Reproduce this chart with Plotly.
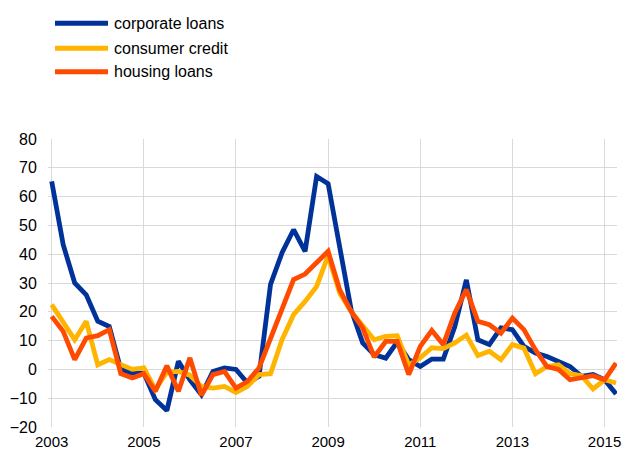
import plotly.graph_objects as go

# Quarterly observations, 2003 Q1 .. 2015 Q2
start_year = 2003
n_quarters = 50
quarters = [start_year + 0.25 * i for i in range(n_quarters)]

corporate_loans = [65.3, 43.3, 30.0, 25.9, 16.7, 14.9, 0.0, -1.3, -1.3, -10.5,
                   -14.3, 2.8, -3.6, -8.8, -0.7, 0.5, 0.0, -4.7, -2.4, 29.5,
                   40.5, 48.5, 41.0, 67.0, 64.5, 43.0, 20.7, 9.2, 5.1, 3.9,
                   9.5, 3.4, 1.0, 3.6, 3.6, 14.9, 31.1, 10.3, 8.6, 14.4,
                   13.8, 8.0, 5.7, 4.5, 2.8, 1.0, -2.4, -1.8, -3.6, -8.5]

consumer_credit = [22.5, 16.7, 10.3, 16.7, 1.6, 3.4, 1.6, 0.0, 0.5, -7.0,
                   -1.0, -0.7, -2.0, -5.9, -6.5, -5.9, -8.0, -5.9, -1.8, -1.5,
                   10.3, 19.0, 23.6, 28.8, 39.5, 26.5, 20.1, 14.9, 10.3, 11.5,
                   11.7, 1.5, 4.0, 7.5, 7.2, 9.2, 11.9, 4.8, 6.3, 3.4,
                   8.6, 7.4, -1.5, 1.0, 1.6, -1.5, -2.2, -6.8, -3.6, -4.7]

housing_loans = [18.4, 13.2, 3.4, 10.9, 11.7, 13.8, -1.5, -3.0, -1.5, -7.6,
                 1.3, -7.6, 4.0, -9.0, -1.8, -0.7, -6.5, -4.2, 0.5, 11.0,
                 21.5, 31.2, 33.1, 36.9, 41.0, 27.7, 20.1, 14.4, 4.3, 9.7,
                 9.7, -1.8, 8.0, 13.5, 8.6, 19.6, 27.7, 16.7, 15.5, 12.6,
                 17.8, 13.8, 6.8, 1.0, 0.0, -3.6, -3.0, -2.2, -3.6, 2.2]

series_names = ["corporate loans", "consumer credit", "housing loans"]
series_values = [corporate_loans, consumer_credit, housing_loans]
series_colors = ["#003299", "#FFB400", "#FF4B00"]

x_tick_vals = [2003, 2005, 2007, 2009, 2011, 2013, 2015]
y_tick_vals = [-20, -10, 0, 10, 20, 30, 40, 50, 60, 70, 80]

FONT = "Liberation Sans, Arial, sans-serif"
FS = 16
W, H = 625, 451
ML, MR, MT, MB = 48, 8, 139, 24
PW, PH = W - ML - MR, H - MT - MB

fig = go.Figure()
for name, vals, col in zip(series_names, series_values, series_colors):
    fig.add_trace(go.Scatter(x=quarters, y=vals, mode="lines", name=name,
                             line=dict(color=col, width=4.8),
                             showlegend=False))

# Manual legend (long line samples as in the reference)
legend_py = [23.3, 48.3, 71.7]
def px_to_paper_x(px):
    return (px - ML) / PW
def py_to_paper_y(py):
    return (H - MB - py) / PH

for name, col, py in zip(series_names, series_colors, legend_py):
    yp = py_to_paper_y(py)
    fig.add_shape(type="line", xref="paper", yref="paper",
                  x0=px_to_paper_x(55), x1=px_to_paper_x(108), y0=yp, y1=yp,
                  line=dict(color=col, width=5))
    fig.add_annotation(xref="paper", yref="paper", x=px_to_paper_x(112), y=yp,
                       text=name, showarrow=False, xanchor="left", yanchor="middle",
                       font=dict(family=FONT, size=FS, color="#000000"))

fig.update_layout(
    width=W, height=H,
    margin=dict(l=ML, r=MR, t=MT, b=MB, pad=0),
    paper_bgcolor="white", plot_bgcolor="white",
    font=dict(family=FONT, size=FS, color="#000000"),
    showlegend=False,
)
fig.update_xaxes(range=[2002.92, 2015.27], tickvals=x_tick_vals,
                 ticktext=[str(v) for v in x_tick_vals], automargin=False,
                 showgrid=True, gridcolor="#d9d9d9", gridwidth=1,
                 zeroline=False, showline=False,
                 ticks="outside", ticklen=1, tickcolor="rgba(0,0,0,0)",
                 tickfont=dict(family=FONT, size=15, color="#000000"))
fig.update_yaxes(range=[-20, 80], tickvals=y_tick_vals, automargin=False,
                 showgrid=True, gridcolor="#d9d9d9", gridwidth=1,
                 zeroline=False, showline=False,
                 ticks="outside", ticklen=7, tickcolor="rgba(0,0,0,0)",
                 tickfont=dict(family=FONT, size=FS, color="#000000"))

fig.write_html("out.html", config={"displayModeBar": False},
               post_script="document.body.style.margin='0';")
